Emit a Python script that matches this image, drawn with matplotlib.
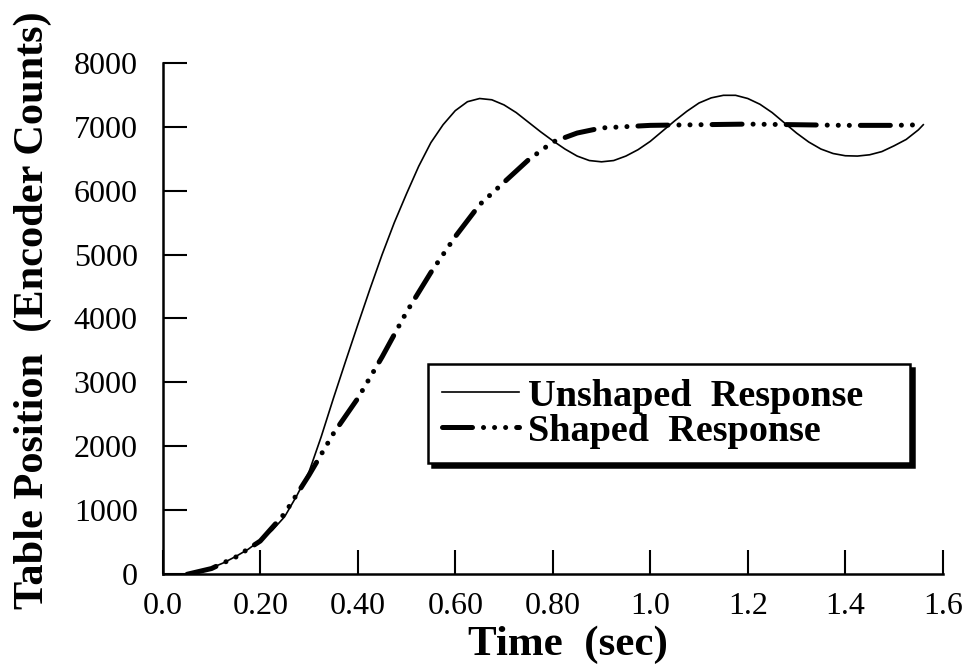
import numpy as np
import matplotlib.pyplot as plt

# Time axis (sec) and measured table positions (encoder counts)
t_unshaped = [0.00, 0.05, 0.075, 0.10, 0.125, 0.15, 0.175, 0.20, 0.225, 0.25,
              0.275, 0.30, 0.325, 0.35, 0.375, 0.40, 0.425, 0.45, 0.475, 0.50,
              0.525, 0.55, 0.575, 0.60, 0.625, 0.65, 0.675, 0.70, 0.725, 0.75,
              0.775, 0.80, 0.825, 0.85, 0.875, 0.90, 0.925, 0.95, 0.975, 1.00,
              1.025, 1.05, 1.075, 1.10, 1.125, 1.15, 1.175, 1.20, 1.225, 1.25,
              1.275, 1.30, 1.325, 1.35, 1.375, 1.40, 1.425, 1.45, 1.475, 1.50,
              1.525, 1.55, 1.56]
pos_unshaped = [0, 0, 30, 100, 180, 280, 390, 530, 690, 900,
                1230, 1600, 2150, 2750, 3330, 3900, 4460, 5000, 5500, 5950,
                6380, 6750, 7030, 7250, 7390, 7440, 7420, 7340, 7220, 7070,
                6920, 6780, 6650, 6540, 6470, 6450, 6470, 6540, 6640, 6770,
                6930, 7090, 7240, 7370, 7450, 7490, 7490, 7440, 7350, 7220,
                7060, 6900, 6760, 6650, 6580, 6545, 6540, 6560, 6610, 6700,
                6800, 6950, 7030]

t_shaped = [0.05, 0.10, 0.15, 0.20, 0.25, 0.30, 0.35, 0.40, 0.45, 0.50,
            0.55, 0.60, 0.65, 0.70, 0.75, 0.80, 0.85, 0.90, 0.95, 1.00,
            1.10, 1.20, 1.30, 1.40, 1.50, 1.56]
pos_shaped = [0, 90, 270, 520, 950, 1550, 2200, 2750, 3400, 4100,
              4720, 5280, 5780, 6130, 6480, 6760, 6900, 6980, 7000, 7020,
              7030, 7040, 7030, 7020, 7020, 7030]

x_ticks = [0.0, 0.2, 0.4, 0.6, 0.8, 1.0, 1.2, 1.4, 1.6]
x_tick_labels = ["0.0", "0.20", "0.40", "0.60", "0.80", "1.0", "1.2", "1.4", "1.6"]
y_ticks = [0, 1000, 2000, 3000, 4000, 5000, 6000, 7000, 8000]

plt.rcParams['font.family'] = ['Liberation Serif', 'DejaVu Serif']

fig = plt.figure(figsize=(9.63, 6.67), dpi=100)
ax = fig.add_axes([0.169, 0.139, 0.810, 0.767])

ax.plot(t_unshaped, pos_unshaped, color='black', lw=1.2,
        label='Unshaped  Response')
ax.plot(t_shaped, pos_shaped, color='black', lw=3.6,
        dashes=(6, 2.2, 0.01, 2.2, 0.01, 2.2, 0.01, 2.2),
        dash_capstyle='round', label='Shaped  Response')

ax.set_xlim(0, 1.6)
ax.set_ylim(0, 8000)
ax.set_xticks(x_ticks)
ax.set_xticklabels(x_tick_labels)
ax.set_yticks(y_ticks)

for side in ['top', 'right']:
    ax.spines[side].set_visible(False)
for side in ['left', 'bottom']:
    ax.spines[side].set_linewidth(1.8)

ax.tick_params(axis='both', direction='in', length=17, width=1.5,
               labelsize=23)
ax.tick_params(axis='y', pad=18)
ax.tick_params(axis='x', pad=13)

ax.set_xlabel('Time  (sec)', fontsize=31, fontweight='bold', labelpad=3)
ax.xaxis.label.set_x(0.519)
ax.set_ylabel('Table Position  (Encoder Counts)', fontsize=30.5,
              fontweight='bold', labelpad=16)
ax.yaxis.label.set_y(0.517)

leg = ax.legend(loc='lower left', bbox_to_anchor=(0.34, 0.217, 0.618, 0.204),
                mode='expand', fontsize=27.5, frameon=True, fancybox=False,
                handlelength=2.0, handletextpad=0.25, labelspacing=0.0,
                borderpad=0.38, borderaxespad=0.0,
                shadow={'color': 'black', 'ox': 3, 'oy': -3, 'alpha': 1})
leg.get_frame().set_edgecolor('black')
leg.get_frame().set_linewidth(1.8)
for txt in leg.get_texts():
    txt.set_fontweight('bold')

plt.savefig('out.png', dpi=100)
plt.close(fig)
